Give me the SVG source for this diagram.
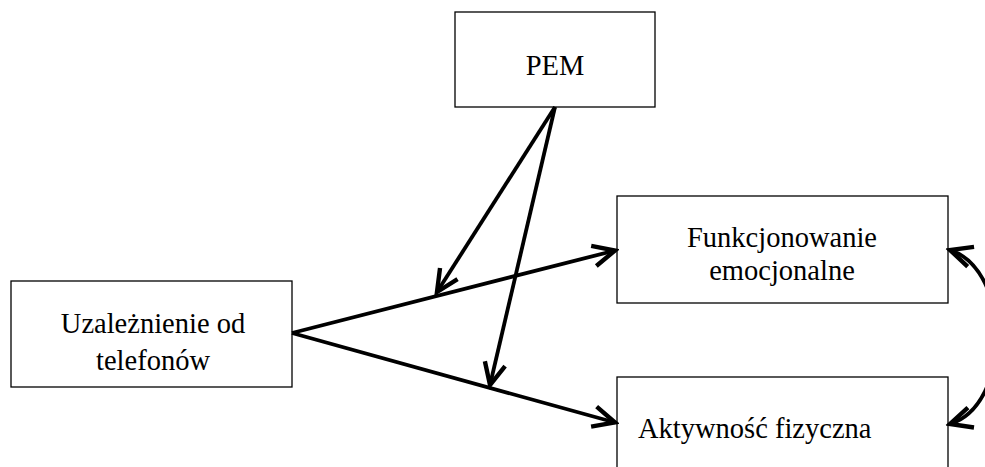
<svg xmlns="http://www.w3.org/2000/svg" width="985" height="467" viewBox="0 0 985 467">
<style>
.box{fill:#fff;stroke:#000;stroke-width:1.3}
text{font-family:'Liberation Serif','DejaVu Serif',serif;font-size:28.5px;fill:#000}
.c{text-anchor:middle}
.arr{fill:none;stroke:#000;stroke-width:3.8}
</style>
<defs>
<marker id="ah" markerUnits="userSpaceOnUse" markerWidth="30" markerHeight="30" viewBox="-22 -12 26 24" refX="0" refY="0" orient="auto-start-reverse">
<path d="M-19,-9 L0,0 L-19,9" fill="none" stroke="#000" stroke-width="3.8" stroke-linejoin="miter"/>
</marker>
</defs>
<rect width="985" height="467" fill="#fff"/>
<g id="pem">
<rect class="box" x="455" y="12" width="200" height="95"/>
<text class="c" x="555" y="75" font-family="Liberation Serif, serif">PEM</text>
</g>
<g id="uzaleznienie">
<rect class="box" x="11" y="281" width="281" height="106"/>
<text class="c" x="153" y="333" font-family="Liberation Serif, serif">Uzależnienie od</text>
<text class="c" x="153" y="370" font-family="Liberation Serif, serif">telefonów</text>
</g>
<g id="funkcjonowanie">
<rect class="box" x="617" y="196" width="331" height="107"/>
<text class="c" x="782" y="247" font-family="Liberation Serif, serif">Funkcjonowanie</text>
<text class="c" x="782" y="280" font-family="Liberation Serif, serif">emocjonalne</text>
</g>
<g id="aktywnosc">
<rect class="box" x="617" y="377" width="331" height="100"/>
<text x="638" y="438" font-family="Liberation Serif, serif">Aktywność fizyczna</text>
</g>
<g id="connectors">
<path class="arr" d="M292,333 L615,250.5" marker-end="url(#ah)"/>
<path class="arr" d="M292,333 L615,422.5" marker-end="url(#ah)"/>
<path class="arr" d="M555,107 L437,292" marker-end="url(#ah)"/>
<path class="arr" d="M555,107 L490,385" marker-end="url(#ah)"/>
<path class="arr" d="M950,250 C1012,270 1012,405 950,424" marker-start="url(#ah)" marker-end="url(#ah)"/>
</g>
</svg>
